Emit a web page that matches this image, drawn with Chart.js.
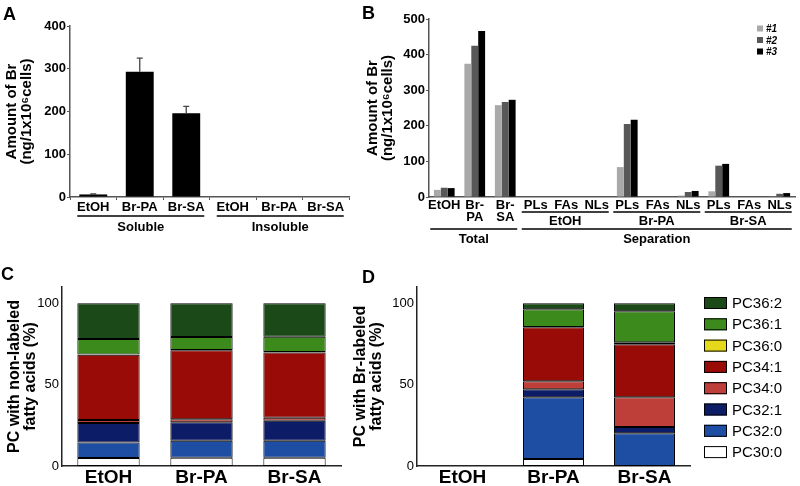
<!DOCTYPE html>
<html>
<head>
<meta charset="utf-8">
<script src="https://cdn.jsdelivr.net/npm/chart.js@4.4.1/dist/chart.umd.min.js"></script>
<style>
  body { margin: 0; background: #fff; }
  #fig { position: relative; width: 800px; height: 486px; overflow: hidden; font-family: "Liberation Sans", Arial, sans-serif; }
  .panel { position: absolute; }
  .tag { position: absolute; font-weight: bold; font-size: 18px; line-height: 18px; }
</style>
</head>
<body>
<div id="fig">
  <div class="panel" style="left:0;top:0;width:360px;height:250px"><canvas id="chartA"></canvas></div>
  <div class="panel" style="left:340px;top:0;width:460px;height:255px"><canvas id="chartB"></canvas></div>
  <div class="panel" style="left:0;top:260px;width:345px;height:226px"><canvas id="chartC"></canvas></div>
  <div class="panel" style="left:345px;top:260px;width:455px;height:226px"><canvas id="chartD"></canvas></div>
  <div class="tag" style="left:3px;top:5px">A</div>
  <div class="tag" style="left:362px;top:4px">B</div>
  <div class="tag" style="left:1px;top:265px">C</div>
  <div class="tag" style="left:362px;top:268px">D</div>
</div>

<script>
// ---- data ----
// Panel A
var categoriesA = ["EtOH", "Br-PA", "Br-SA", "EtOH", "Br-PA", "Br-SA"];
var groupsA = ["Soluble", "Insoluble"];
var valuesA = [6, 293, 196, 0, 0, 0];
var errA = [1, 32, 16, 0, 0, 0];
var ticksA = [0, 100, 200, 300, 400];

// Panel B
var categoriesB = ["EtOH", ["Br-", "PA"], ["Br-", "SA"], "PLs", "FAs", "NLs", "PLs", "FAs", "NLs", "PLs", "FAs", "NLs"];
var subGroupsB = ["EtOH", "Br-PA", "Br-SA"];
var groupsB = ["Total", "Separation"];
var seriesB1 = [20, 374, 258, 0, 0, 0, 84, 0, 4, 16, 0, 2];
var seriesB2 = [26, 425, 267, 0, 0, 0, 205, 0, 14, 88, 0, 9];
var seriesB3 = [25, 466, 273, 0, 0, 0, 217, 0, 17, 93, 0, 11];
var ticksB = [0, 100, 200, 300, 400, 500];

// Panels C and D
var categoriesCD = ["EtOH", "Br-PA", "Br-SA"];
var species = ["PC30:0", "PC32:0", "PC32:1", "PC34:0", "PC34:1", "PC36:0", "PC36:1", "PC36:2"];
var speciesColors = ["#ffffff", "#1e4ea4", "#0d1c66", "#be3e39", "#990b06", "#e6d91c", "#3c8a1c", "#1b4a18"];
// one row per species, columns EtOH, Br-PA, Br-SA
var nonLabeled = [
    [4.9, 5.1, 5.1],
    [9.6, 10.4, 10.4],
    [12.0, 11.4, 12.3],
    [1.7, 1.9, 1.8],
    [40.2, 42.4, 40.2],
    [0.1, 0.1, 0.2],
    [9.6, 7.9, 9.4],
    [21.9, 20.8, 20.6]
];
var brLabeled = [
    [0, 4.3, 0],
    [0, 38.0, 20.2],
    [0, 4.9, 3.7],
    [0, 4.9, 18.4],
    [0, 33.2, 32.5],
    [0, 0.1, 1.3],
    [0, 11.0, 19.0],
    [0, 3.6, 4.9]
];
var ticksCD = [0, 50, 100];

// ---- helpers ----
var FONT = '"Liberation Sans", Arial, Helvetica, sans-serif';
Chart.defaults.font.family = FONT;
Chart.defaults.color = "#000";

function makeBrackets(rows, size) {
    return {
        id: "brackets",
        afterDraw: function (chart) {
            var ctx = chart.ctx;
            var x = chart.scales.x;
            ctx.save();
            ctx.strokeStyle = "#000";
            ctx.fillStyle = "#000";
            ctx.lineWidth = 1.5;
            ctx.font = "bold " + size + "px " + FONT;
            ctx.textAlign = "center";
            ctx.textBaseline = "middle";
            rows.forEach(function (row) {
                row.groups.forEach(function (g) {
                    var x0 = x.getPixelForValue(g[0]) - row.padL;
                    var x1 = x.getPixelForValue(g[1]) + row.padR;
                    ctx.beginPath();
                    ctx.moveTo(x0, row.lineY);
                    ctx.lineTo(x1, row.lineY);
                    ctx.stroke();
                    ctx.fillText(g[2], (x0 + x1) / 2, row.textY);
                });
            });
            ctx.restore();
        }
    };
}

function makeLegend(o) {
    return {
        id: "boxLegend",
        afterDraw: function (chart) {
            var ctx = chart.ctx;
            var sets = chart.data.datasets.slice();
            if (o.reverse) sets.reverse();
            ctx.save();
            ctx.font = o.font;
            ctx.textBaseline = "middle";
            ctx.textAlign = "left";
            sets.forEach(function (ds, i) {
                var cy = o.y + i * o.step;
                ctx.fillStyle = ds.backgroundColor;
                ctx.fillRect(o.x, cy - o.h / 2, o.w, o.h);
                if (o.border) {
                    ctx.strokeStyle = "#000";
                    ctx.lineWidth = 1;
                    ctx.strokeRect(o.x + 0.5, cy - o.h / 2 + 0.5, o.w - 1, o.h - 1);
                }
                ctx.fillStyle = "#000";
                ctx.fillText(ds.label, o.x + o.w + o.gap, cy + 1);
            });
            ctx.restore();
        }
    };
}

var errorBarsA = {
    id: "errorBarsA",
    afterDatasetsDraw: function (chart) {
        var ctx = chart.ctx;
        var y = chart.scales.y;
        var meta = chart.getDatasetMeta(0);
        ctx.save();
        ctx.strokeStyle = "#444";
        ctx.lineWidth = 1.3;
        meta.data.forEach(function (bar, i) {
            if (!errA[i]) return;
            var top = y.getPixelForValue(valuesA[i] + errA[i]);
            ctx.beginPath();
            ctx.moveTo(bar.x, bar.y);
            ctx.lineTo(bar.x, top);
            ctx.moveTo(bar.x - 3, top);
            ctx.lineTo(bar.x + 3, top);
            ctx.stroke();
        });
        ctx.restore();
    }
};

function fixedTicks(list) {
    return function (scale) {
        scale.ticks = list.map(function (v) { return { value: v }; });
    };
}

// ---- Panel A ----
new Chart(document.getElementById("chartA"), {
    type: "bar",
    data: {
        labels: categoriesA,
        datasets: [{
            data: valuesA,
            backgroundColor: "#000",
            barPercentage: 0.6,
            categoryPercentage: 1
        }]
    },
    options: {
        responsive: true,
        maintainAspectRatio: false,
        animation: false,
        layout: { padding: { left: 4, top: 26, right: 11, bottom: 0 } },
        plugins: { legend: { display: false }, tooltip: { enabled: false } },
        scales: {
            x: {
                afterFit: function (s) { s.height = 53; },
                border: { color: "#555", width: 1.5 },
                grid: { drawOnChartArea: false, drawTicks: true, tickLength: 3, color: "#555", offset: true },
                ticks: { font: { size: 13, weight: "bold" }, padding: 0, maxRotation: 0, autoSkip: false }
            },
            y: {
                min: 0,
                max: 400,
                afterFit: function (s) { s.width = 66; },
                afterBuildTicks: fixedTicks(ticksA),
                border: { color: "#555", width: 1.5 },
                grid: { drawOnChartArea: false, drawTicks: true, tickLength: 3, color: "#555" },
                ticks: { font: { size: 13, weight: "bold" }, padding: 1 },
                title: {
                    display: true,
                    text: ["Amount of Br", "(ng/1x10\u2076cells)"],
                    font: { size: 15, weight: "bold", lineHeight: 1 },
                    padding: { top: 0, bottom: 2 }
                }
            }
        }
    },
    plugins: [errorBarsA, makeBrackets([
        { lineY: 216, textY: 227, padL: 16, padR: 18, groups: [[0, 2, groupsA[0]], [3, 5, groupsA[1]]] }
    ], 13)]
});

// ---- Panel B ----
var greysB = ["#a9a9a9", "#585858", "#000000"];
new Chart(document.getElementById("chartB"), {
    type: "bar",
    data: {
        labels: categoriesB,
        datasets: [
            { label: "#1", data: seriesB1, backgroundColor: greysB[0], barPercentage: 1, categoryPercentage: 0.68 },
            { label: "#2", data: seriesB2, backgroundColor: greysB[1], barPercentage: 1, categoryPercentage: 0.68 },
            { label: "#3", data: seriesB3, backgroundColor: greysB[2], barPercentage: 1, categoryPercentage: 0.68 }
        ]
    },
    options: {
        responsive: true,
        maintainAspectRatio: false,
        animation: false,
        layout: { padding: { left: 25, top: 19, right: 5, bottom: 0 } },
        plugins: { legend: { display: false }, tooltip: { enabled: false } },
        scales: {
            x: {
                afterFit: function (s) { s.height = 58; },
                border: { color: "#555", width: 1.5 },
                grid: { display: false, drawTicks: false },
                ticks: { font: { size: 13, weight: "bold", lineHeight: 0.88 }, padding: 3, maxRotation: 0, autoSkip: false }
            },
            y: {
                min: 0,
                max: 500,
                afterFit: function (s) { s.width = 64; },
                afterBuildTicks: fixedTicks(ticksB),
                border: { color: "#555", width: 1.5 },
                grid: { drawOnChartArea: false, drawTicks: true, tickLength: 3, color: "#555" },
                ticks: { font: { size: 13, weight: "bold" }, padding: 1 },
                title: {
                    display: true,
                    text: ["Amount of Br", "(ng/1x10\u2076cells)"],
                    font: { size: 15, weight: "bold", lineHeight: 1 },
                    padding: { top: 0, bottom: 2 }
                }
            }
        }
    },
    plugins: [
        makeBrackets([
            { lineY: 212, textY: 221, padL: 14, padR: 12, groups: [[3, 5, subGroupsB[0]], [6, 8, subGroupsB[1]], [9, 11, subGroupsB[2]]] },
            { lineY: 229, textY: 239, padL: 14, padR: 12, groups: [[0, 2, groupsB[0]], [3, 11, groupsB[1]]] }
        ], 13),
        makeLegend({ x: 417, y: 28.5, step: 11.5, w: 6, h: 6, gap: 3, font: "italic bold 10px " + FONT, reverse: false, border: false })
    ]
});

// ---- Panels C and D ----
function stackedSets(rows) {
    return species.map(function (name, i) {
        return {
            label: name,
            data: rows[i],
            backgroundColor: speciesColors[i],
            borderColor: "#000",
            borderWidth: 1,
            borderSkipped: false,
            barPercentage: 0.67,
            categoryPercentage: 1
        };
    });
}

function stackedOptions(title, padLeft, yWidth, padRight) {
    return {
        responsive: true,
        maintainAspectRatio: false,
        animation: false,
        layout: { padding: { left: padLeft, top: 27, right: padRight, bottom: 0 } },
        plugins: { legend: { display: false }, tooltip: { enabled: false } },
        scales: {
            x: {
                stacked: true,
                afterFit: function (s) { s.height = 20; },
                border: { color: "#222", width: 1.5 },
                grid: { display: false, drawTicks: false },
                ticks: { font: { size: 19, weight: "bold", lineHeight: 1 }, padding: 2, maxRotation: 0, autoSkip: false }
            },
            y: {
                stacked: true,
                min: 0,
                max: 110,
                afterFit: function (s) { s.width = yWidth; },
                afterBuildTicks: fixedTicks(ticksCD),
                border: { color: "#222", width: 1.5 },
                grid: { display: false, drawTicks: false },
                ticks: { font: { size: 13 }, padding: 3 },
                title: {
                    display: true,
                    text: title,
                    font: { size: 16, weight: "bold", lineHeight: 1 },
                    padding: { top: 0, bottom: 2 }
                }
            }
        }
    };
}

new Chart(document.getElementById("chartC"), {
    type: "bar",
    data: { labels: categoriesCD, datasets: stackedSets(nonLabeled) },
    options: stackedOptions(["PC with non-labeled", "fatty acids (%)"], 7, 55, 4)
});

new Chart(document.getElementById("chartD"), {
    type: "bar",
    data: { labels: categoriesCD, datasets: stackedSets(brLabeled) },
    options: stackedOptions(["PC with Br-labeled", "fatty acids (%)"], 8, 64, 110),
    plugins: [makeLegend({ x: 359, y: 43, step: 21.3, w: 23, h: 12, gap: 5, font: "15px " + FONT, reverse: true, border: true })]
});
</script>
</body>
</html>
